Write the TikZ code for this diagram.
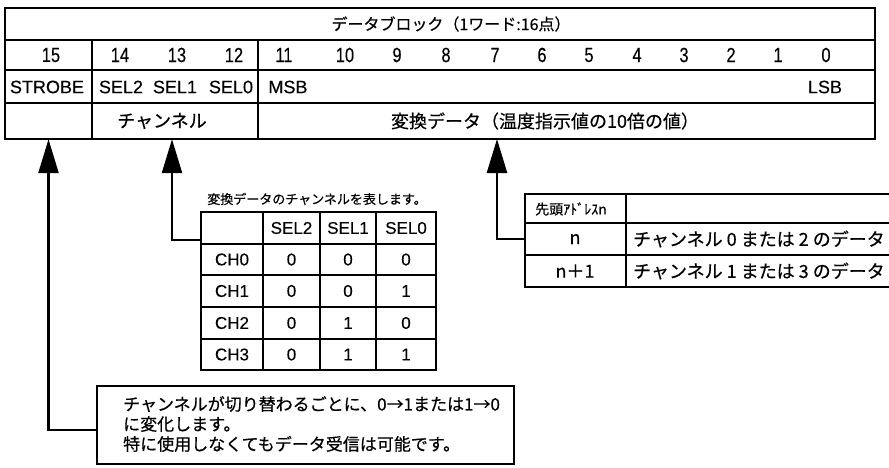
\documentclass[tikz,border=0pt]{standalone}
\usepackage{graphicx}
\usepackage{fontspec}
\setmainfont{Liberation Sans}[FakeBold=0.25]
\newfontfamily\jp{Noto Sans CJK JP}[FakeBold=0.5]
\usetikzlibrary{arrows.meta}
\begin{document}
\begin{tikzpicture}[x=1pt,y=-1pt,
  ln/.style={line width=2.5pt, line cap=rect},
  arr/.style={line width=2.5pt, -{Triangle[length=34pt,width=20pt]}},
  lat/.style={inner sep=0pt, font=\fontsize{18}{20}\selectfont},
  tlat/.style={inner sep=0pt, font=\fontsize{17}{20}\selectfont},
  bit/.style={inner sep=0pt, font=\fontsize{20.5}{22}\selectfont},
  jpt/.style={inner sep=0pt, font=\jp\fontsize{18}{20}\selectfont},
  cellbox/.style={draw=none, inner sep=0pt}
]
\clip (0,0) rectangle (889,467);
\fill[white] (0,0) rectangle (889,467);

% ---------- top table ----------
\draw[ln] (5,8) rectangle (875,139);
\foreach \y in {40,70,103} \draw[ln] (5,\y) -- (875,\y);
\foreach \x in {92,258} \draw[ln] (\x,40) -- (\x,139);

\node[inner sep=0pt, font=\jp\fontsize{16}{18}\selectfont] (title) at (451,24) {データブロック（1ワード:16点）};

\foreach \b/\x in {15/51,14/120,13/177,12/234,11/284,10/345,9/397,8/446,7/495,6/542,5/589,4/637,3/684,2/731,1/778,0/826}
  \node[bit] (b\b) at (\x,55) {\scalebox{0.8}[1]{\b}};

\node[lat] (strobe) at (47,87) {STROBE};
\node[lat] (sel2) at (121,87) {SEL2};
\node[lat] (sel1) at (175,87) {SEL1};
\node[lat] (sel0) at (231,87) {SEL0};
\node[lat] (msb) at (288,87) {MSB};
\node[lat] (lsb) at (825,87) {LSB};

\node[jpt] (chlbl) at (162,121) {チャンネル};
\node[jpt] (datalbl) at (545,121) {変換データ（温度指示値の10倍の値）};

\node[cellbox, minimum width=87pt, minimum height=36pt] (strobecell) at (48.5,121) {};
\node[cellbox, minimum width=166pt, minimum height=36pt] (chcell) at (172,121) {};
\coordinate (dtip) at (497,139);

% ---------- channel table ----------
\node[inner sep=0pt, font=\jp\fontsize{13}{15}\selectfont] (chcap) at (317,199) {変換データのチャンネルを表します。};
\draw[ln] (201,212) rectangle (436,370);
\foreach \y in {244,275,307,339} \draw[ln] (201,\y) -- (436,\y);
\foreach \x in {263,320,376} \draw[ln] (\x,212) -- (\x,370);
\node[tlat] (hs2) at (291.5,228) {SEL2};
\node[tlat] (hs1) at (348,228) {SEL1};
\node[tlat] (hs0) at (406,228) {SEL0};
\foreach \r/\y/\a/\b/\c in {0/259.5/0/0/0, 1/291/0/0/1, 2/323/0/1/0, 3/354.5/0/1/1} {
  \node[tlat] (ch\r) at (232,\y) {CH\r};
  \node[tlat] (ch\r a) at (291.5,\y) {\a};
  \node[tlat] (ch\r b) at (348,\y) {\b};
  \node[tlat] (ch\r c) at (406,\y) {\c};
}
\coordinate (chin) at (201,240);

% ---------- address table ----------
\draw[ln] (525,194) -- (900,194);
\draw[ln] (525,223) -- (900,223);
\draw[ln] (525,255) -- (900,255);
\draw[ln] (525,287) -- (900,287);
\draw[ln] (525,194) -- (525,287);
\draw[ln] (626,194) -- (626,287);
\node[inner sep=0pt, font=\jp\fontsize{14}{16}\selectfont] (addr) at (571,209) {先頭ｱﾄﾞﾚｽn};
\node[cellbox, minimum width=101pt, minimum height=32pt] (rown) at (575.5,239) {};
\node[jpt] (ntxt) at (575,239) {n};
\node[jpt] (n1txt) at (575,271) {n＋1};
\node[jpt, anchor=west] (d0) at (633,239) {チャンネル 0 または 2 のデータ};
\node[jpt, anchor=west] (d1) at (633,271) {チャンネル 1 または 3 のデータ};

% ---------- note box ----------
\node[draw, line width=2.5pt, minimum width=417pt, minimum height=78pt, inner sep=0pt] (note) at (305.5,425) {};
\node[inner sep=0pt, anchor=west, align=left, font=\jp\fontsize{17}{20}\selectfont] (notetxt) at (123,424)
  {チャンネルが切り替わるごとに、0→1または1→0\\に変化します。\\特に使用しなくてもデータ受信は可能です。};

% ---------- connectors ----------
\draw[arr] ([yshift=-5pt]note.west) -| (strobecell.south);
\draw[arr] (chin) -| (chcell.south);
\draw[arr] (rown.west) -| (dtip);
\end{tikzpicture}
\end{document}
